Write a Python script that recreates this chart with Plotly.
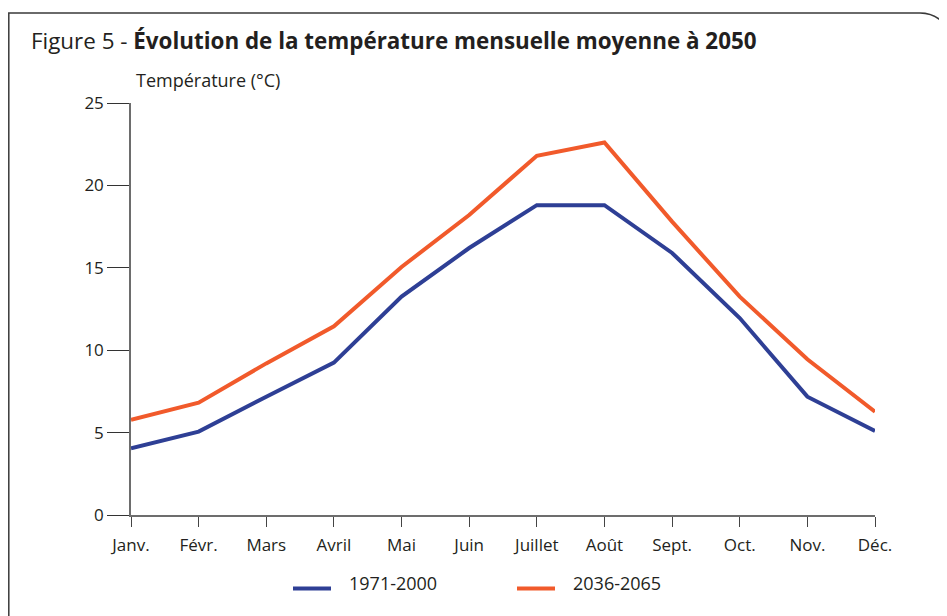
import plotly.graph_objects as go

months = ["Janv.", "Févr.", "Mars", "Avril", "Mai", "Juin", "Juillet", "Août", "Sept.", "Oct.", "Nov.", "Déc."]
temp_1971_2000 = [4.05, 5.06, 7.18, 9.25, 13.25, 16.2, 18.8, 18.8, 15.9, 11.95, 7.18, 5.1]
temp_2036_2065 = [5.77, 6.82, 9.2, 11.45, 15.05, 18.2, 21.8, 22.6, 17.8, 13.25, 9.45, 6.27]
series_names = ["1971-2000", "2036-2065"]
y_ticks = [0, 5, 10, 15, 20, 25]

OFF = 8  # default page margin of the HTML body
W, H = 947 - OFF, 616 - OFF
# plot area in screen pixels
SL, SR, ST, SB = 131, 875, 103, 515
L, R, T, B = SL - OFF, SR - OFF, ST - OFF, SB - OFF

BLUE = "#2e3f95"
ORANGE = "#f15a2b"
COLORS = [BLUE, ORANGE]
TXT = "#231f20"
FONT = "Open Sans"

fig = go.Figure()
x_idx = list(range(len(months)))
for name, vals, col in zip(series_names, [temp_1971_2000, temp_2036_2065], COLORS):
    fig.add_trace(go.Scatter(x=x_idx, y=vals, mode="lines", name=name,
                             line=dict(color=col, width=4), showlegend=False))

def px(x):  # screen x -> paper
    return (x - SL) / (SR - SL)

def py(y):  # screen y -> paper
    return (SB - y) / (SB - ST)

# frame with rounded top-right corner
x0, y0 = 8.8, 13
xr, r = 953, 33
k = 0.5523 * r
path = (f"M {px(x0)},{py(700)} L {px(x0)},{py(y0)} L {px(xr - r)},{py(y0)} "
        f"C {px(xr - r + k)},{py(y0)} {px(xr)},{py(y0 + r - k)} {px(xr)},{py(y0 + r)} "
        f"L {px(xr)},{py(700)}")
fig.add_shape(type="path", xref="paper", yref="paper", path=path,
              line=dict(color="#3a3a3a", width=1.5))

# legend (keys + labels)
leg_x = [293, 517]
for lx, name, col in zip(leg_x, series_names, COLORS):
    fig.add_shape(type="line", xref="paper", yref="paper",
                  x0=px(lx), x1=px(lx + 38), y0=py(588.5), y1=py(588.5),
                  line=dict(color=col, width=4))
    fig.add_annotation(text=name, xref="paper", yref="paper",
                       x=px(lx + 54), y=py(583), xanchor="left", yanchor="middle",
                       showarrow=False, font=dict(size=18, color=TXT, family=FONT))

fig.update_layout(
    width=W, height=H,
    margin=dict(l=L, r=W - R, t=T, b=H - B),
    paper_bgcolor="white", plot_bgcolor="white",
    font=dict(family=FONT, color=TXT, size=17),
    title=dict(text="<span style='font-weight:400'>Figure 5 - </span><b>Évolution de la température mensuelle moyenne à 2050</b>",
               x=(31 - OFF) / W, xanchor="left", y=1 - (41 - OFF) / H, yanchor="middle",
               font=dict(family=FONT, size=22.4, color=TXT)),
    xaxis=dict(range=[0, 11], tickmode="array", tickvals=x_idx, ticktext=months,
               showgrid=False, zeroline=False, showline=True, linecolor="#6d6d6d", linewidth=1.5,
               ticks="outside", ticklen=10, tickwidth=1.3, tickcolor="#444",
               ticklabelstandoff=4,
               tickfont=dict(size=17, color=TXT), fixedrange=True),
    yaxis=dict(range=[0, 25], tickvals=y_ticks, showgrid=False, zeroline=False,
               showline=True, linecolor="#6d6d6d", linewidth=1.5,
               ticks="outside", ticklen=22, tickwidth=1.3, tickcolor="#333",
               tickfont=dict(size=17, color=TXT), fixedrange=True),
    showlegend=False,
)

fig.add_annotation(text="Température (°C)", xref="paper", yref="paper",
                   x=px(134), y=py(80), xanchor="left", yanchor="middle",
                   showarrow=False, font=dict(size=18, color=TXT, family=FONT))

fig.write_html("out.html")
